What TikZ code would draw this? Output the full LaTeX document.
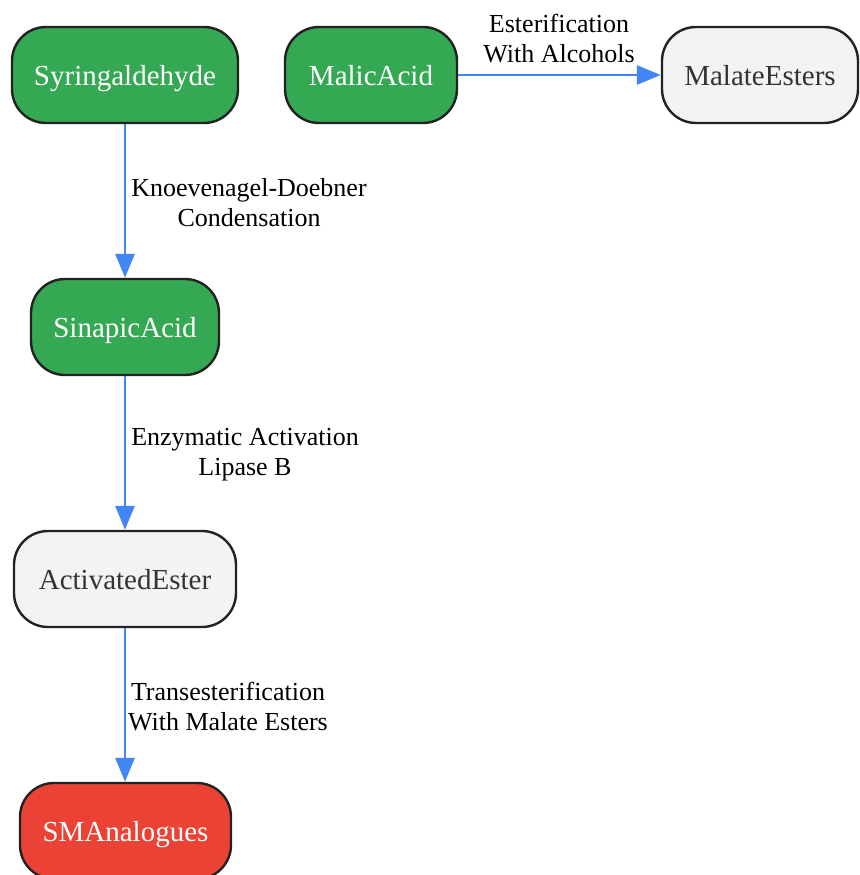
\documentclass[tikz,border=0pt]{standalone}
\usepackage{fontspec}
\setmainfont{Liberation Serif}
\usetikzlibrary{arrows.meta}
\definecolor{gfill}{HTML}{34A853}
\definecolor{rfill}{HTML}{EA4335}
\definecolor{lfill}{HTML}{F1F3F4}
\definecolor{edgeblue}{HTML}{4285F4}
\definecolor{bord}{HTML}{222222}
\definecolor{dtext}{HTML}{333333}
\tikzset{
  box/.style={draw=bord, line width=2.4pt, rounded corners=34pt, minimum height=96pt, inner sep=0pt,
    text height=20pt, text depth=0pt, font=\fontsize{29}{33}\selectfont},
  green/.style={box, fill=gfill, text=white},
  red/.style={box, fill=rfill, text=white},
  light/.style={box, fill=lfill, text=dtext},
  conn/.style={draw=edgeblue, line width=2.8pt, -{Triangle[length=24pt,width=19pt]}},
  lbl/.style={align=center, font=\fontsize{26}{30}\selectfont, text=black, inner sep=0pt}
}
\begin{document}
\begin{tikzpicture}[x=1pt,y=-1pt]
\useasboundingbox (0,0) rectangle (859,875);
\node[green, minimum width=226pt] (syr) at (125,75) {Syringaldehyde};
\node[green, minimum width=172pt] (mal) at (371,75) {MalicAcid};
\node[light, minimum width=196pt] (mest) at (760,75) {MalateEsters};
\node[green, minimum width=188pt] (sin) at (125,327) {SinapicAcid};
\node[light, minimum width=222pt] (act) at (125,579) {ActivatedEster};
\node[red, minimum width=211pt] (sma) at (125.5,831) {SMAnalogues};
\draw[conn] (syr) -- (sin);
\draw[conn] (sin) -- (act);
\draw[conn] (act) -- (sma.north -| act.south);
\draw[conn] (mal) -- (mest);
\node[lbl] (l1) at (249,203) {Knoevenagel-Doebner\\Condensation};
\node[lbl] (l2) at (245,455) {Enzymatic Activation\\Lipase B};
\node[lbl] (l3) at (228,707) {Transesterification\\With Malate Esters};
\node[lbl] (l4) at (559,39) {Esterification\\With Alcohols};
\end{tikzpicture}
\end{document}
